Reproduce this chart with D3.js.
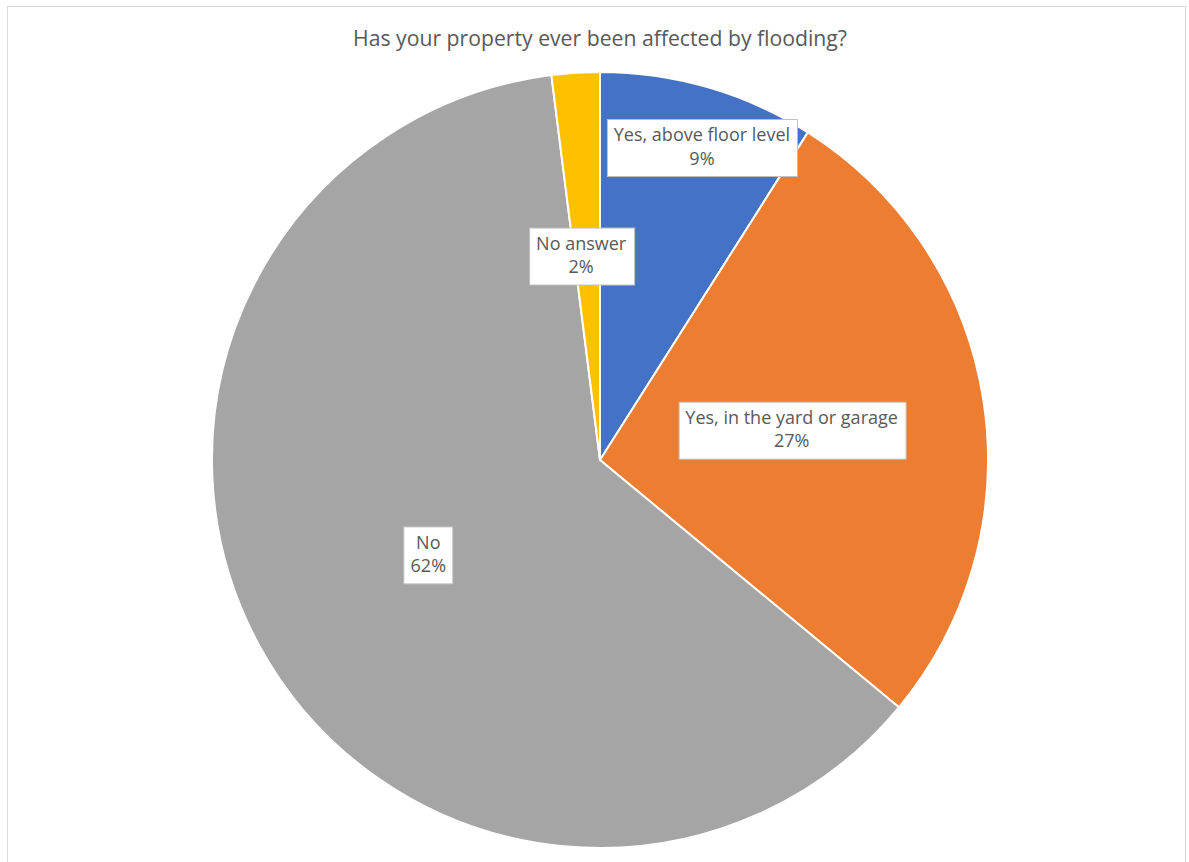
<!DOCTYPE html>
<html>
<head>
<meta charset="utf-8">
<script src="https://cdn.jsdelivr.net/npm/d3@7"></script>
<style>
  html, body { margin: 0; padding: 0; background: #fff; }
  svg { display: block; }
  text { font-family: "Open Sans", Lato, sans-serif; }
</style>
</head>
<body>
<svg id="chart" width="1189" height="862"></svg>
<script>
// Survey answers and their shares (%)
const categories = ["Yes, above floor level", "Yes, in the yard or garage", "No", "No answer"];
const values = [9, 27, 62, 2];
const colors = ["#4472C4", "#ED7D31", "#A5A5A5", "#FFC000"];
// radial position of each data label, as a fraction of the pie radius
const labelRadius = [0.84, 0.5, 0.505, 0.528];
// small horizontal nudge (px) so a label box stays clear of slice edges
const labelNudge = [11, 0, 0, -6];

const title = "Has your property ever been affected by flooding?";

const cx = 600, cy = 460, R = 388;

const svg = d3.select("#chart");

// chart area frame
svg.append("rect")
  .attr("x", 7.5).attr("y", 6.5)
  .attr("width", 1178).attr("height", 870)
  .attr("fill", "#fff")
  .attr("stroke", "#d9d9d9")
  .attr("stroke-width", 1);

svg.append("text")
  .attr("x", cx).attr("y", 46)
  .attr("text-anchor", "middle")
  .attr("fill", "#595959")
  .style("font-size", "21.2px")
  .text(title);

const data = categories.map((c, i) => ({
  name: c, value: values[i], color: colors[i], lr: labelRadius[i], dx: labelNudge[i]
}));

const pie = d3.pie().value(d => d.value).sort(null);
const arcs = pie(data);
const arc = d3.arc().innerRadius(0).outerRadius(R);

const g = svg.append("g").attr("transform", `translate(${cx},${cy})`);

g.selectAll("path.slice")
  .data(arcs)
  .join("path")
  .attr("class", "slice")
  .attr("d", arc)
  .attr("fill", d => d.data.color)
  .attr("stroke", "#fff")
  .attr("stroke-width", 2)
  .attr("stroke-linejoin", "round");

// data labels: category name + percentage inside a white box
const labels = g.selectAll("g.label")
  .data(arcs)
  .join("g")
  .attr("class", "label")
  .attr("transform", d => {
    const r = R * d.data.lr;
    const la = d3.arc().innerRadius(r).outerRadius(r);
    const [x, y] = la.centroid(d);
    return `translate(${x + d.data.dx},${y})`;
  });

const fs = 18, lh = 23.5;
labels.each(function(d) {
  const sel = d3.select(this);
  const box = sel.append("rect")
    .attr("fill", "#fff")
    .attr("stroke", "#bfbfbf")
    .attr("stroke-width", 1);
  const t = sel.append("text")
    .attr("text-anchor", "middle")
    .attr("fill", "#595959")
    .style("font-size", fs + "px");
  t.append("tspan").attr("x", 0).attr("y", -lh / 2 + 6).text(d.data.name);
  t.append("tspan").attr("x", 0).attr("y", lh / 2 + 6).text(d.data.value + "%");
  const bb = t.node().getBBox();
  const padX = 7;
  box.attr("x", Math.round(bb.x - padX) + 0.5)
     .attr("y", -28 + 0.5)
     .attr("width", Math.round(bb.width + 2 * padX))
     .attr("height", 57);
});
</script>
</body>
</html>
